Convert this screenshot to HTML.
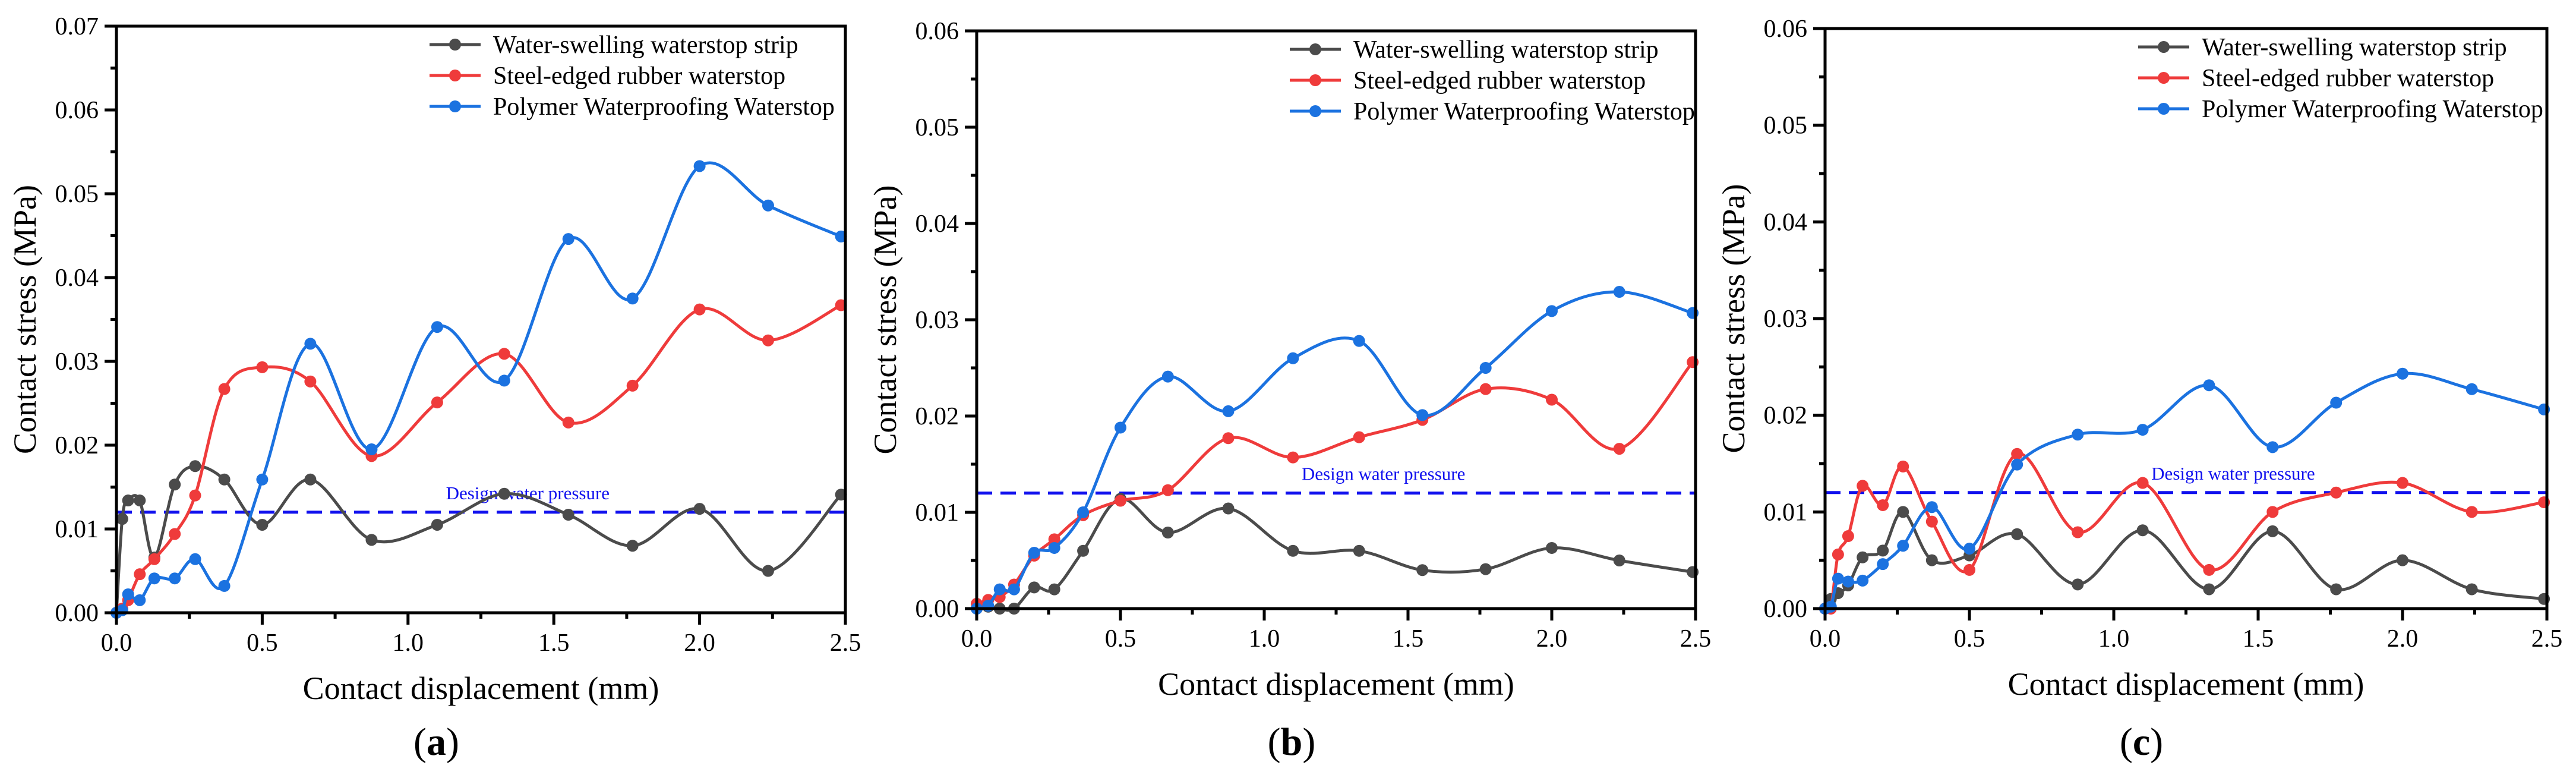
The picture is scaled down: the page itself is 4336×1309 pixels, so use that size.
<!DOCTYPE html>
<html><head><meta charset="utf-8"><style>
html,body{margin:0;padding:0;background:#fff}
svg{display:block;font-family:"Liberation Serif","DejaVu Serif",serif}
svg text{font-family:"Liberation Serif","DejaVu Serif",serif}
</style></head><body>
<svg id="fig" xmlns="http://www.w3.org/2000/svg" width="4336" height="1309" viewBox="0 0 4336 1309" font-family="Liberation Serif, serif"></svg>
<script>
// ---------- data ----------
const seriesNames = ["Water-swelling waterstop strip","Steel-edged rubber waterstop","Polymer Waterproofing Waterstop"];
const panelLabels = ["a","b","c"];
const designPressure = 0.012;
const xTicks = [0,0.5,1.0,1.5,2.0,2.5];
const xTickLabels = ["0.0","0.5","1.0","1.5","2.0","2.5"];
const yTicksA = [0,0.01,0.02,0.03,0.04,0.05,0.06,0.07];
const yTicksBC = [0,0.01,0.02,0.03,0.04,0.05,0.06];

const xA = [0,0.02,0.04,0.08,0.13,0.2,0.27,0.37,0.5,0.665,0.875,1.1,1.33,1.55,1.77,2.0,2.235,2.485];
const blackA = [0,0.0112,0.0134,0.0134,0.0066,0.0153,0.0175,0.0159,0.0105,0.0159,0.0087,0.0105,0.0142,0.0117,0.008,0.0124,0.005,0.0141];
const redA   = [0,0.0005,0.0015,0.0046,0.0064,0.0094,0.014,0.0267,0.0293,0.0276,0.0187,0.0251,0.0309,0.0227,0.0271,0.0362,0.0325,0.0367];
const blueA  = [0,0.0003,0.0022,0.0015,0.0041,0.0041,0.0064,0.0032,0.0159,0.0321,0.0195,0.0341,0.0277,0.0446,0.0375,0.0533,0.0486,0.0449];

const xB = [0,0.04,0.08,0.13,0.2,0.27,0.37,0.5,0.665,0.875,1.1,1.33,1.55,1.77,2.0,2.235,2.49];
const blackB = [0,0.0002,0,0,0.0022,0.002,0.006,0.0114,0.0079,0.0104,0.006,0.006,0.004,0.0041,0.0063,0.005,0.0038];
const redB   = [0.0005,0.0009,0.0012,0.0025,0.0055,0.0072,0.0097,0.0112,0.0123,0.0177,0.0157,0.0178,0.0196,0.0228,0.0217,0.0166,0.0256];
const blueB  = [0,0.0003,0.002,0.002,0.0058,0.0063,0.01,0.0188,0.0241,0.0205,0.026,0.0278,0.0201,0.025,0.0309,0.0329,0.0307];

const xC = [0,0.02,0.045,0.08,0.13,0.2,0.27,0.37,0.5,0.665,0.875,1.1,1.33,1.55,1.77,2.0,2.24,2.49];
const blackC = [0,0.001,0.0016,0.0024,0.0053,0.006,0.01,0.005,0.0055,0.0077,0.0025,0.0081,0.002,0.008,0.002,0.005,0.002,0.001];
const redC   = [0,0,0.0056,0.0075,0.0127,0.0107,0.0147,0.009,0.004,0.016,0.0079,0.013,0.004,0.01,0.012,0.013,0.01,0.011];
const blueC  = [0,0.0002,0.0031,0.0028,0.0029,0.0046,0.0065,0.0105,0.0062,0.0149,0.018,0.0185,0.0231,0.0167,0.0213,0.0243,0.0227,0.0206];

const colors = ["#4b4b4b","#ef3b3b","#1b72e0"];
const NS="http://www.w3.org/2000/svg";
const FONT='"Liberation Serif", "DejaVu Serif", serif';
const svg=document.getElementById('fig');
function mk(tag,attrs,parent){const e=document.createElementNS(NS,tag);for(const k in attrs)e.setAttribute(k,attrs[k]);if(tag==='text'){e.setAttribute('font-family',FONT);e.style.fontFamily=FONT;}(parent||svg).appendChild(e);return e;}

const panels=[
 {x0:196,x1:1423,y0:1031,y1:44,ymax:0.07,yt:yTicksA,xs:xA,ser:[blackA,redA,blueA],label:"a"},
 {x0:1644,x1:2854,y0:1024,y1:52,ymax:0.06,yt:yTicksBC,xs:xB,ser:[blackB,redB,blueB],label:"b"},
 {x0:3072,x1:4287,y0:1024,y1:48,ymax:0.06,yt:yTicksBC,xs:xC,ser:[blackC,redC,blueC],label:"c"}
];

function spline(pts){
  let d="M"+pts[0][0]+","+pts[0][1];
  for(let i=0;i<pts.length-1;i++){
    const p0=pts[Math.max(0,i-1)],p1=pts[i],p2=pts[i+1],p3=pts[Math.min(pts.length-1,i+2)];
    const c1=[p1[0]+(p2[0]-p0[0])/6,p1[1]+(p2[1]-p0[1])/6];
    const c2=[p2[0]-(p3[0]-p1[0])/6,p2[1]-(p3[1]-p1[1])/6];
    d+=" C"+c1[0]+","+c1[1]+" "+c2[0]+","+c2[1]+" "+p2[0]+","+p2[1];
  }
  return d;
}

panels.forEach((P,pi)=>{
  const g=mk('g',{});
  
  
  const X=v=>P.x0+(P.x1-P.x0)*v/2.5;
  const Y=v=>P.y0-(P.y0-P.y1)*v/P.ymax;
  const dl=mk('line',{x1:P.x0,x2:P.x1,y1:Y(designPressure),y2:Y(designPressure),stroke:"#1010ee","stroke-width":5,"stroke-dasharray":"26,14"},g);
  
  
  const dt=mk('text',{x:X(1.13),y:Y(designPressure)-22,fill:"#1010ee","font-size":31},g);
  dt.textContent="Design water pressure";
  
  
  P.ser.forEach((vals,si)=>{
    const pts=P.xs.map((x,i)=>[X(x),Y(vals[i])]);
    const sg=mk('g',{},g);
    
    
    mk('path',{d:spline(pts),fill:"none",stroke:colors[si],"stroke-width":5},sg);
    pts.forEach(p=>{
      const c=mk('circle',{cx:p[0],cy:p[1],r:10,fill:colors[si]},sg);
      
      
    });
  });
  const fr=mk('rect',{x:P.x0,y:P.y1,width:P.x1-P.x0,height:P.y0-P.y1,fill:"none",stroke:"#000","stroke-width":5},g);
  
  
  P.yt.forEach((v,i)=>{
    mk('line',{x1:P.x0-20,x2:P.x0,y1:Y(v),y2:Y(v),stroke:"#000","stroke-width":5},g);
    if(i<P.yt.length-1){const m=v+0.005;mk('line',{x1:P.x0-10,x2:P.x0,y1:Y(m),y2:Y(m),stroke:"#000","stroke-width":5},g);}
    const t=mk('text',{x:P.x0-30,y:Y(v)+14,"text-anchor":"end","font-size":42},g);
    t.textContent=v.toFixed(2);
    
    
  });
  xTicks.forEach((v,i)=>{
    mk('line',{x1:X(v),x2:X(v),y1:P.y0,y2:P.y0+20,stroke:"#000","stroke-width":5},g);
    if(i<xTicks.length-1){const m=v+0.25;mk('line',{x1:X(m),x2:X(m),y1:P.y0,y2:P.y0+10,stroke:"#000","stroke-width":5},g);}
    const t=mk('text',{x:X(v),y:P.y0+64,"text-anchor":"middle","font-size":42},g);
    t.textContent=xTickLabels[i];
    
    
  });
  const xt=mk('text',{x:(P.x0+P.x1)/2,y:P.y0+145,"text-anchor":"middle","font-size":54},g);
  xt.textContent="Contact displacement (mm)";
  
  
  const cy=(P.y0+P.y1)/2;
  const yx=P.x0-136;
  const yt=mk('text',{x:yx,y:cy,"text-anchor":"middle","font-size":54,transform:`rotate(-90 ${yx} ${cy})`},g);
  yt.textContent="Contact stress (MPa)";
  
  
  const pl=mk('text',{x:(P.x0+P.x1)/2-75,y:1270,"text-anchor":"middle","font-size":66},g);
  pl.innerHTML='(<tspan font-weight="bold">'+P.label+'</tspan>)';
  
  
  const lg=mk('g',{},g);
  
  
  const lx=P.x0+527, ly=P.y1+31;
  seriesNames.forEach((n,si)=>{
    const y=ly+si*52;
    const e=mk('g',{},lg);
    
    
    mk('line',{x1:lx,x2:lx+86,y1:y,y2:y,stroke:colors[si],"stroke-width":5},e);
    mk('circle',{cx:lx+43,cy:y,r:10,fill:colors[si]},e);
    const t=mk('text',{x:lx+107,y:y+14,"font-size":42},e);
    t.textContent=n;
  });
});
</script>
</body></html>
